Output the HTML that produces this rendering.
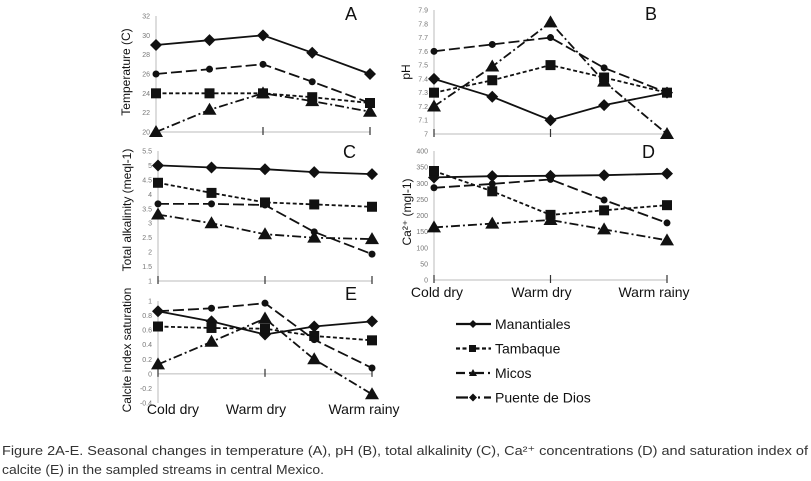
<!DOCTYPE html>
<html><head><meta charset="utf-8"><style>
html,body{margin:0;padding:0;background:#fff;}
svg{display:block;font-family:"Liberation Sans",sans-serif;}
</style></head><body>
<svg id="fig" width="811" height="481" viewBox="0 0 811 481" xmlns="http://www.w3.org/2000/svg">
<g id="panels"></g>
<g id="legend"></g>
<text x="2" y="455" font-size="13" fill="#333" textLength="806" lengthAdjust="spacingAndGlyphs">Figure 2A-E. Seasonal changes in temperature (A), pH (B), total alkalinity (C), Ca²⁺ concentrations (D) and saturation index of</text>
<text x="2" y="474" font-size="13" fill="#333" textLength="322" lengthAdjust="spacingAndGlyphs">calcite (E) in the sampled streams in central Mexico.</text>
</svg>
<script>
const NS='http://www.w3.org/2000/svg';
const categories=['Cold dry','Warm dry','Warm rainy'];
const samplePos=[0,0.25,0.5,0.73,1];
const seriesNames=['Manantiales','Tambaque','Micos','Puente de Dios'];
const tempMan=[29,29.5,30,28.2,26];
const tempTam=[24,24,24,23.6,23];
const tempMic=[20,22.3,24,23.2,22.1];
const tempPue=[26,26.5,27,25.2,23];
const phMan=[7.4,7.27,7.1,7.21,7.3];
const phTam=[7.3,7.39,7.5,7.41,7.3];
const phMic=[7.2,7.49,7.81,7.38,7.0];
const phPue=[7.6,7.65,7.7,7.48,7.3];
const alkMan=[5,4.93,4.87,4.77,4.7];
const alkTam=[4.4,4.05,3.72,3.65,3.57];
const alkMic=[3.3,3.0,2.62,2.5,2.45];
const alkPue=[3.67,3.67,3.63,2.7,1.93];
const caMan=[318,322,323,325,330];
const caTam=[338,275,202,216,232];
const caMic=[163,175,186,157,123];
const caPue=[286,298,312,248,177];
const siMan=[0.86,0.72,0.54,0.65,0.72];
const siTam=[0.65,0.63,0.62,0.52,0.46];
const siMic=[0.13,0.44,0.76,0.2,-0.28];
const siPue=[0.86,0.9,0.97,0.47,0.08];
const tempTicks=[20,22,24,26,28,30,32];
const phTicks=[7,7.1,7.2,7.3,7.4,7.5,7.6,7.7,7.8,7.9];
const alkTicks=[1,1.5,2,2.5,3,3.5,4,4.5,5,5.5];
const caTicks=[0,50,100,150,200,250,300,350,400];
const siTicks=[-0.4,-0.2,0,0.2,0.4,0.6,0.8,1];

const dashes=['', '4,2.5', '9,3,2,3', '11,4'];
const markers=['diamond','square','triangle','circle'];

function el(tag,attrs,parent){const e=document.createElementNS(NS,tag);for(const k in attrs)e.setAttribute(k,attrs[k]);parent.appendChild(e);return e;}
function marker(g,type,x,y){
  if(type==='diamond') return el('path',{d:`M${x},${y-6}L${x+6},${y}L${x},${y+6}L${x-6},${y}Z`,fill:'#111'},g);
  if(type==='square') return el('rect',{x:x-5,y:y-5,width:10,height:10,fill:'#111'},g);
  if(type==='triangle') return el('path',{d:`M${x},${y-7}L${x+7},${y+5}L${x-7},${y+5}Z`,fill:'#111'},g);
  return el('circle',{cx:x,cy:y,r:3.5,fill:'#111'},g);
}
const panels=[
 {id:'A',x0:156,x1:370,yt:16,yb:132,min:20,max:32,ticks:tempTicks,data:[tempMan,tempTam,tempMic,tempPue],title:'Temperature (C)',tx:130,ty:72,lx:345,ly:20,base:20,cats:false},
 {id:'B',x0:434,x1:667,yt:10,yb:134,min:7,max:7.9,ticks:phTicks,data:[phMan,phTam,phMic,phPue],title:'pH',tx:410,ty:72,lx:645,ly:20,base:7,cats:false},
 {id:'C',x0:158,x1:372,yt:151,yb:281,min:1,max:5.5,ticks:alkTicks,data:[alkMan,alkTam,alkMic,alkPue],title:'Total alkalinity (meql-1)',tx:131,ty:210,lx:343,ly:158,base:1,cats:false},
 {id:'D',x0:434,x1:667,yt:151,yb:280,min:0,max:400,ticks:caTicks,data:[caMan,caTam,caMic,caPue],title:'Ca²⁺ (mgl-1)',tx:411,ty:212,lx:642,ly:158,base:0,cats:true,cy:297,off:[3,-9,-13]},
 {id:'E',x0:158,x1:372,yt:301,yb:403,min:-0.4,max:1,ticks:siTicks,data:[siMan,siTam,siMic,siPue],title:'Calcite index saturation',tx:131,ty:350,lx:345,ly:300,base:0,cats:true,cy:414,off:[15,-9,-8]}
];
const root=document.getElementById('panels');
panels.forEach(p=>{
  const g=el('g',{},root);
  
  
  const X=v=>p.x0+(p.x1-p.x0)*v;
  const Y=v=>p.yb-(v-p.min)/(p.max-p.min)*(p.yb-p.yt);
  const ya=el('line',{x1:p.x0,x2:p.x0,y1:p.yt,y2:p.yb,stroke:'#bbb','stroke-width':1},g);
  
  
  const xa=el('line',{x1:p.x0,x2:p.x1,y1:Y(p.base),y2:Y(p.base),stroke:'#bbb','stroke-width':1},g);
  
  
  categories.forEach((c,i)=>{
    const cx=X(i/(categories.length-1));
    el('line',{x1:cx,x2:cx,y1:Y(p.base)-5,y2:Y(p.base)+3,stroke:'#333','stroke-width':1.2},g);
    if(p.cats){
      const t=el('text',{x:cx+p.off[i],y:p.cy,'font-size':14,'text-anchor':'middle',fill:'#111'},g);
      t.textContent=c;
      
      
    }
  });
  p.ticks.forEach(v=>{
    const t=el('text',{x:p.x0-6,y:Y(v)+2.5,'font-size':7,'text-anchor':'end',fill:'#777'},g);
    t.textContent=String(v);
    
    
  });
  const tt=el('text',{x:p.tx,y:p.ty,'font-size':12,'text-anchor':'middle',fill:'#111',transform:`rotate(-90 ${p.tx} ${p.ty})`},g);
  tt.textContent=p.title;
  
  
  const pl=el('text',{x:p.lx,y:p.ly,'font-size':18,fill:'#111'},g);
  pl.textContent=p.id;
  
  
  p.data.forEach((arr,si)=>{
    const sg=el('g',{},g);
    
    
    const pts=arr.map((v,i)=>X(samplePos[i]).toFixed(1)+','+Y(v).toFixed(1)).join(' ');
    el('polyline',{points:pts,fill:'none',stroke:'#111','stroke-width':1.8,'stroke-dasharray':dashes[si]},sg);
    arr.forEach((v,i)=>{
      const m=marker(sg,markers[si],X(samplePos[i]),Y(v));
      
      
    });
  });
});
const lg=document.getElementById('legend');
const legDash=['', '4,2.5', '9,4,2,4', '12,10,2,4'];
seriesNames.forEach((n,i)=>{
  const y=324+i*24.5;
  const g=el('g',{},lg);
  
  
  el('line',{x1:456,x2:491,y1:y,y2:y,stroke:'#111','stroke-width':2.2,'stroke-dasharray':legDash[i]},g);
  const m=markers[i];
  if(m==='diamond') el('path',{d:`M473,${y-4}L477,${y}L473,${y+4}L469,${y}Z`,fill:'#111'},g);
  else if(m==='square') el('rect',{x:469,y:y-3.5,width:7,height:7,fill:'#111'},g);
  else if(m==='triangle') el('path',{d:`M473,${y-4}L477,${y+3}L469,${y+3}Z`,fill:'#111'},g);
  else el('path',{d:`M473,${y-4}L477,${y}L473,${y+4}L469,${y}Z`,fill:'#111'},g);
  const t=el('text',{x:495,y:y+5,'font-size':14,fill:'#111'},g);
  t.textContent=n;
});
</script>
</body></html>
